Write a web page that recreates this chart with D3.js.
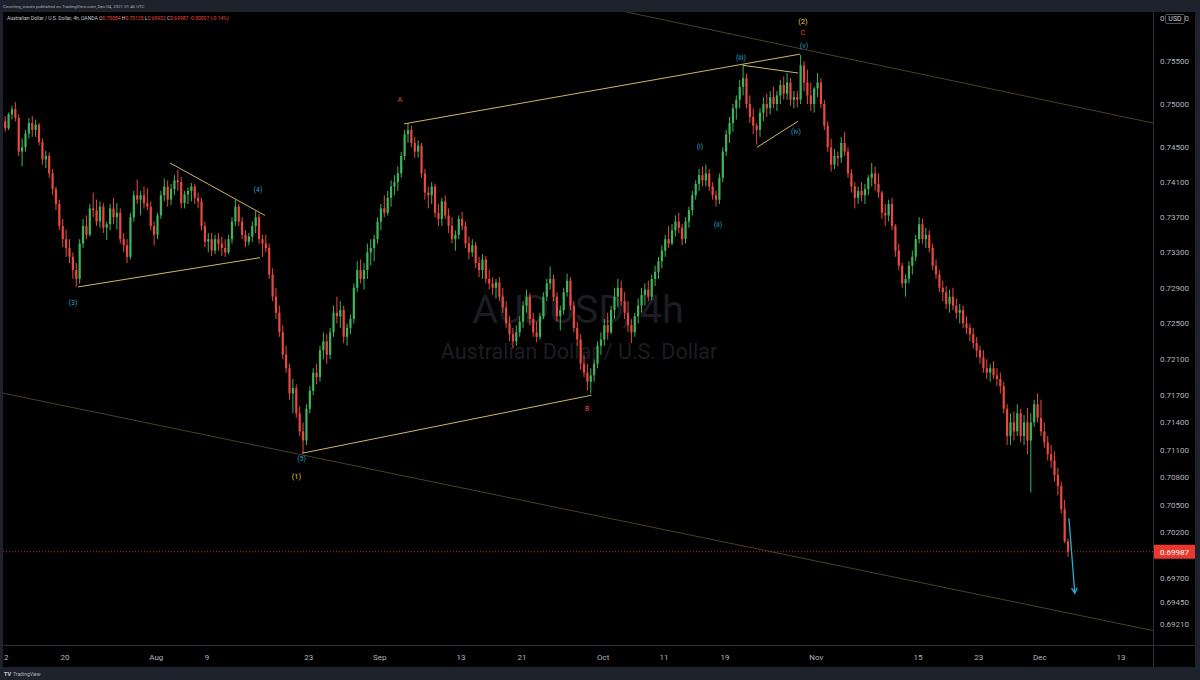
<!DOCTYPE html>
<html><head><meta charset="utf-8">
<script src="https://cdn.jsdelivr.net/npm/d3@7"></script>
<style>html,body{margin:0;padding:0;background:#1e222d;overflow:hidden}svg{display:block;font-family:Roboto,"Open Sans",sans-serif}</style>
</head><body><svg id="c" width="1200" height="680"></svg>
<script>
// ---- data (AUDUSD, 8h slices) ----
const firstOpen = .7480;
const highs = [
.7486,.7490,.7498,.7502,.7488,.7460,.7470,.7484,.7486,.7482,.7478,.7460,.7446,.7444,.7425,
.7405,.7390,.7368,.7356,.7345,.7330,.7318,.7345,.7368,.7372,.7385,.7398,.7390,.7388,.7386,
.7365,.7385,.7392,.7386,.7380,.7352,.7345,.7375,.7400,.7413,.7400,.7405,.7403,.7388,.7365,
.7375,.7400,.7414,.7412,.7408,.7418,.7424,.7416,.7400,.7404,.7409,.7408,.7398,.7392,.7365,
.7352,.7352,.7350,.7352,.7348,.7345,.7350,.7370,.7390,.7385,.7370,.7355,.7352,.7365,.7377,
.7374,.7350,.7350,.7340,.7312,.7290,.7270,.7248,.7225,.7205,.7188,.7182,.7158,.7140,.7160,
.7180,.7200,.7205,.7225,.7240,.7238,.7245,.7270,.7280,.7275,.7270,.7250,.7260,.7295,.7320,
.7322,.7318,.7340,.7345,.7350,.7370,.7385,.7395,.7400,.7412,.7418,.7428,.7445,.7470,.7478,
.7475,.7462,.7458,.7455,.7425,.7405,.7410,.7408,.7385,.7392,.7395,.7380,.7370,.7355,.7372,
.7376,.7365,.7348,.7345,.7342,.7325,.7328,.7326,.7310,.7302,.7300,.7302,.7290,.7275,.7258,
.7245,.7248,.7258,.7275,.7288,.7284,.7262,.7252,.7262,.7285,.7300,.7314,.7305,.7285,.7270,
.7290,.7306,.7302,.7275,.7252,.7238,.7215,.7205,.7200,.7210,.7230,.7240,.7255,.7262,.7270,
.7290,.7300,.7298,.7285,.7275,.7255,.7262,.7278,.7290,.7295,.7298,.7305,.7315,.7325,.7338,
.7350,.7360,.7362,.7372,.7375,.7362,.7370,.7382,.7400,.7412,.7425,.7428,.7430,.7425,.7410,
.7400,.7420,.7450,.7470,.7485,.7500,.7510,.7528,.7546,.7535,.7510,.7495,.7478,.7495,.7508,
.7512,.7515,.7520,.7515,.7528,.7532,.7536,.7530,.7515,.7515,.7557,.7550,.7540,.7525,.7520,
.7536,.7530,.7505,.7480,.7460,.7448,.7445,.7462,.7468,.7450,.7425,.7410,.7405,.7410,.7408,
.7418,.7432,.7428,.7420,.7400,.7385,.7390,.7392,.7362,.7340,.7318,.7305,.7320,.7332,.7350,
.7370,.7368,.7358,.7355,.7340,.7322,.7310,.7298,.7292,.7288,.7290,.7278,.7272,.7270,.7258,
.7250,.7245,.7235,.7225,.7220,.7210,.7205,.7208,.7200,.7195,.7185,.7160,.7150,.7152,.7160,
.7155,.7148,.7156,.7150,.7165,.7172,.7165,.7140,.7125,.7115,.7108,.7090,.7075,.7055,.7013];
const lows = [
.7468,.7470,.7482,.7480,.7440,.7428,.7445,.7460,.7462,.7462,.7452,.7430,.7426,.7415,.7395,
.7378,.7355,.7336,.7325,.7318,.7300,.7291,.7295,.7335,.7345,.7348,.7370,.7360,.7358,.7352,
.7344,.7355,.7362,.7356,.7340,.7330,.7318,.7322,.7365,.7385,.7372,.7380,.7378,.7355,.7338,
.7345,.7368,.7388,.7382,.7384,.7395,.7400,.7380,.7380,.7385,.7388,.7385,.7380,.7355,.7336,
.7330,.7326,.7328,.7332,.7326,.7325,.7328,.7340,.7360,.7360,.7345,.7336,.7338,.7342,.7352,
.7340,.7325,.7330,.7300,.7275,.7255,.7235,.7210,.7195,.7165,.7150,.7145,.7125,.7106,.7115,
.7150,.7170,.7182,.7185,.7210,.7205,.7210,.7235,.7250,.7245,.7228,.7225,.7238,.7250,.7285,
.7295,.7288,.7300,.7315,.7320,.7340,.7355,.7370,.7372,.7382,.7395,.7400,.7415,.7435,.7455,
.7450,.7438,.7438,.7415,.7390,.7380,.7385,.7370,.7360,.7360,.7368,.7352,.7340,.7332,.7345,
.7355,.7335,.7322,.7325,.7312,.7302,.7300,.7295,.7288,.7282,.7278,.7275,.7262,.7245,.7230,
.7222,.7225,.7235,.7245,.7262,.7248,.7235,.7229,.7232,.7255,.7275,.7288,.7275,.7252,.7242,
.7260,.7280,.7265,.7240,.7225,.7198,.7190,.7175,.7172,.7185,.7200,.7215,.7225,.7232,.7238,
.7255,.7268,.7270,.7255,.7240,.7228,.7235,.7250,.7262,.7270,.7275,.7276,.7292,.7300,.7312,
.7325,.7335,.7338,.7348,.7352,.7338,.7340,.7358,.7372,.7390,.7400,.7405,.7405,.7400,.7390,
.7382,.7385,.7410,.7440,.7455,.7468,.7482,.7495,.7510,.7495,.7478,.7465,.7453,.7462,.7480,
.7485,.7488,.7495,.7492,.7500,.7505,.7505,.7498,.7495,.7496,.7500,.7515,.7500,.7492,.7490,
.7508,.7495,.7470,.7445,.7422,.7425,.7428,.7432,.7440,.7415,.7398,.7380,.7385,.7388,.7385,
.7395,.7405,.7400,.7392,.7368,.7360,.7365,.7355,.7325,.7310,.7290,.7280,.7295,.7305,.7320,
.7340,.7340,.7335,.7330,.7310,.7300,.7285,.7275,.7266,.7262,.7265,.7255,.7250,.7245,.7238,
.7230,.7222,.7212,.7205,.7195,.7188,.7185,.7188,.7180,.7172,.7150,.7115,.7115,.7120,.7125,
.7118,.7115,.7105,.7063,.7135,.7140,.7125,.7112,.7098,.7090,.7075,.7060,.7040,.7008,.6993];
const closes = [
.7472,.7488,.7494,.7484,.7445,.7450,.7466,.7478,.7470,.7476,.7456,.7436,.7440,.7420,.7402,
.7385,.7360,.7345,.7335,.7325,.7310,.7300,.7340,.7360,.7350,.7380,.7378,.7365,.7382,.7358,
.7362,.7380,.7370,.7375,.7345,.7338,.7325,.7370,.7395,.7390,.7395,.7386,.7382,.7360,.7350,
.7372,.7395,.7405,.7390,.7402,.7412,.7410,.7386,.7396,.7400,.7405,.7392,.7388,.7360,.7342,
.7345,.7332,.7345,.7340,.7335,.7330,.7345,.7365,.7382,.7365,.7350,.7342,.7348,.7360,.7370,
.7345,.7340,.7335,.7305,.7280,.7262,.7240,.7215,.7200,.7172,.7178,.7150,.7130,.7120,.7155,
.7175,.7195,.7190,.7220,.7230,.7215,.7240,.7262,.7258,.7265,.7235,.7245,.7255,.7290,.7310,
.7300,.7310,.7330,.7335,.7345,.7365,.7380,.7375,.7392,.7405,.7410,.7420,.7440,.7465,.7470,
.7455,.7445,.7452,.7420,.7398,.7395,.7405,.7375,.7368,.7388,.7372,.7360,.7345,.7350,.7368,
.7360,.7340,.7330,.7338,.7318,.7310,.7322,.7300,.7295,.7290,.7296,.7280,.7268,.7250,.7238,
.7230,.7240,.7252,.7270,.7280,.7255,.7240,.7235,.7258,.7280,.7295,.7300,.7280,.7258,.7265,
.7285,.7298,.7270,.7245,.7232,.7205,.7195,.7185,.7192,.7205,.7225,.7232,.7248,.7240,.7265,
.7280,.7290,.7275,.7262,.7248,.7240,.7258,.7270,.7282,.7288,.7280,.7300,.7308,.7320,.7332,
.7345,.7340,.7355,.7365,.7358,.7345,.7365,.7378,.7395,.7408,.7418,.7412,.7420,.7405,.7395,
.7390,.7415,.7445,.7465,.7478,.7495,.7505,.7520,.7530,.7500,.7485,.7475,.7470,.7490,.7500,
.7495,.7508,.7500,.7510,.7522,.7512,.7525,.7505,.7508,.7505,.7545,.7525,.7510,.7500,.7518,
.7525,.7500,.7475,.7450,.7430,.7440,.7438,.7455,.7445,.7420,.7405,.7392,.7400,.7395,.7402,
.7415,.7420,.7408,.7398,.7375,.7372,.7385,.7360,.7332,.7315,.7295,.7300,.7315,.7325,.7345,
.7362,.7345,.7350,.7335,.7315,.7305,.7290,.7285,.7272,.7280,.7270,.7262,.7265,.7250,.7245,
.7238,.7228,.7220,.7212,.7200,.7195,.7200,.7192,.7188,.7180,.7155,.7125,.7140,.7130,.7150,
.7125,.7140,.7120,.7140,.7160,.7145,.7130,.7118,.7105,.7098,.7082,.7070,.7045,.7010,.69987];
const barsPerDay = 3;
const dayTicks  = [0,6,15,20,30,37,45,51,59,65,71,80,90,96,102,110];
const dayLabels = ["12","20","Aug","9","23","Sep","13","21","Oct","11","19","Nov","15","23","Dec","13"];
const priceTicks = [.76,.755,.75,.745,.741,.737,.733,.729,.725,.721,.717,.714,.711,.708,.705,.702,.697,.6945,.6921];
const lastPrice = .69987;
// wave trend lines [[day, price],[day, price]]
const waveLines = [
  [[16.40,.7432],[25.75,.7372]],
  [[7.34,.7291],[25.26,.7324]],
  [[39.44,.7477],[78.43,.7558]],
  [[29.39,.7106],[57.90,.7170]],
  [[72.82,.7545],[78.24,.7536]],
  [[74.20,.7450],[78.24,.7480]]
];
const channelLines = [
  [[60.71,.7609],[113.2,.7478]],
  [[-0.35,.7173],[113.2,.6914]]
];
const forecastArrow = [[104.92,.7035],[105.50,.6954]];
const minorLabels = [["(3)",6.84,.7273],["(4)",25.06,.7402],["(5)",29.35,.7100],["(i)",68.59,.7451],["(ii)",70.36,.7362],["(iii)",72.62,.7554],["(iv)",78.04,.7468],["(v)",78.83,.7568]];
const intermediateLabels = [["(1)",28.85,.7081],["(2)",78.73,.7596]];
const correctiveLabels = [["A",39.04,.7505],["B",57.46,.7156],["C",78.73,.7584]];

// ---- drawing ----
const svg = d3.select("#c");
const W = 1200, H = 680;
const P = {left:3, right:1153, top:12, bottom:645, frameR:1195, frameB:667};
const UP = "#3fb45a", DOWN = "#e8493f";

svg.append("rect").attr("width",W).attr("height",H).attr("fill","#1e222d");
svg.append("rect").attr("x",P.left).attr("y",P.top).attr("width",P.frameR-P.left).attr("height",P.frameB-P.top).attr("fill","#000");

const x = d3.scaleLinear().domain([0,110]).range([3.5,1120.5]);
const y = d3.scaleLog().domain([.755,.6921]).range([61,624]);

const defs = svg.append("defs");
defs.append("clipPath").attr("id","pc").append("rect")
  .attr("x",P.left).attr("y",P.top).attr("width",P.right-P.left).attr("height",P.bottom-P.top);
defs.append("clipPath").attr("id","xc").append("rect")
  .attr("x",P.left).attr("y",0).attr("width",P.right-P.left).attr("height",40);

// watermark
const wm = svg.append("g").attr("fill","#1c1d22").attr("text-anchor","middle");
wm.append("text").attr("x",578).attr("y",323).attr("font-size",39.5).text("AUDUSD, 4h");
wm.append("text").attr("x",579).attr("y",359).attr("font-size",21.5).text("Australian Dollar / U.S. Dollar");

const plot = svg.append("g").attr("clip-path","url(#pc)");

// channel lines
plot.selectAll("line.ch").data(channelLines).join("line").attr("class","ch")
  .attr("x1",d=>x(d[0][0])).attr("y1",d=>y(d[0][1])).attr("x2",d=>x(d[1][0])).attr("y2",d=>y(d[1][1]))
  .attr("stroke","#4a3e2b").attr("stroke-width",1);

// last price dotted line
plot.append("line").attr("x1",0).attr("x2",P.right).attr("y1",y(lastPrice)).attr("y2",y(lastPrice))
  .attr("stroke","#b7352c").attr("stroke-width",1).attr("stroke-dasharray","1,2");

// candles
const candles = closes.map((c,i)=>{const o = i ? closes[i-1] : firstOpen;
  return {i,o,c,h:Math.max(highs[i],o,c),l:Math.min(lows[i],o,c)};});
const cx = d => x((d.i+0.5)/barsPerDay);
const cg = plot.append("g");
cg.selectAll("line").data(candles).join("line")
  .attr("x1",cx).attr("x2",cx).attr("y1",d=>y(d.h)).attr("y2",d=>y(d.l))
  .attr("stroke",d=>d.c>=d.o?UP:DOWN).attr("stroke-width",1);
cg.selectAll("rect").data(candles).join("rect")
  .attr("x",d=>cx(d)-1.1).attr("width",2.2)
  .attr("y",d=>y(Math.max(d.o,d.c))).attr("height",d=>Math.max(1,y(Math.min(d.o,d.c))-y(Math.max(d.o,d.c))))
  .attr("fill",d=>d.c>=d.o?UP:DOWN);

// wave lines
plot.selectAll("line.wv").data(waveLines).join("line").attr("class","wv")
  .attr("x1",d=>x(d[0][0])).attr("y1",d=>y(d[0][1])).attr("x2",d=>x(d[1][0])).attr("y2",d=>y(d[1][1]))
  .attr("stroke","#cdb964").attr("stroke-width",1);

// arrow
{ const x1=x(forecastArrow[0][0]), y1=y(forecastArrow[0][1]), x2=x(forecastArrow[1][0]), y2=y(forecastArrow[1][1]);
  const a = Math.atan2(y2-y1,x2-x1), L=6, s=0.5;
  const ag = plot.append("g").attr("stroke","#27b1d6").attr("stroke-width",1.3).attr("fill","none");
  ag.append("line").attr("x1",x1).attr("y1",y1).attr("x2",x2).attr("y2",y2);
  ag.append("path").attr("d",`M${x2-L*Math.cos(a-s)},${y2-L*Math.sin(a-s)}L${x2},${y2}L${x2-L*Math.cos(a+s)},${y2-L*Math.sin(a+s)}`);
}

// labels
function labels(arr, color, size){
  plot.append("g").selectAll("text").data(arr).join("text")
    .attr("x",d=>x(d[1])).attr("y",d=>y(d[2])).attr("dy","0.35em")
    .attr("text-anchor","middle").attr("font-size",size).attr("fill",color).text(d=>d[0]);
}
labels(minorLabels,"#2ba3c8",7);
labels(correctiveLabels,"#e2453b",7.5);
labels(intermediateLabels,"#e9c43f",7.5);

// separators
svg.append("line").attr("x1",P.right+0.5).attr("x2",P.right+0.5).attr("y1",P.top).attr("y2",P.frameB).attr("stroke","#2a2e39");
svg.append("line").attr("x1",P.left).attr("x2",P.frameR).attr("y1",P.bottom+0.5).attr("y2",P.bottom+0.5).attr("stroke","#2a2e39");

// axes
const yAxis = svg.append("g").attr("transform",`translate(${P.right},0)`)
  .call(d3.axisRight(y).tickValues(priceTicks).tickFormat(d3.format(".5f")).tickSize(0).tickPadding(7));
yAxis.select(".domain").remove();
yAxis.selectAll("text").attr("fill","#b2b5be").attr("font-size",8).attr("font-family","Roboto");

const xAxisWrap = svg.append("g").attr("transform",`translate(0,${P.bottom})`);
const xAxis = xAxisWrap.append("g").attr("clip-path","url(#xc)")
  .call(d3.axisBottom(x).tickValues(dayTicks).tickFormat((d,i)=>dayLabels[i]).tickSize(0).tickPadding(9));
xAxis.select(".domain").remove();
xAxis.selectAll("text").attr("fill","#b2b5be").attr("font-size",8).attr("font-family","Roboto");

// last price tag
const ly = y(lastPrice);
svg.append("rect").attr("x",P.right+1).attr("y",ly-7).attr("width",P.frameR-P.right-1).attr("height",14).attr("fill","#e8392e");
svg.append("text").attr("x",P.right+7).attr("y",ly).attr("dy","0.35em").attr("font-size",8).attr("fill","#fff").text(d3.format(".5f")(lastPrice));

// USD tag
svg.append("rect").attr("x",1165.5).attr("y",14.5).attr("width",19).attr("height",9).attr("rx",1.5).attr("fill","#000").attr("stroke","#50535e");
svg.append("text").attr("x",1175).attr("y",19).attr("dy","0.35em").attr("text-anchor","middle").attr("font-size",7).attr("fill","#d1d4dc").text("USD");

// header
svg.append("text").attr("x",3).attr("y",7.5).attr("font-size",4.4).attr("fill","#a9acb5")
  .text("Counting_waves published on TradingView.com, Dec 04, 2021 01:46 UTC");
const sym = svg.append("text").attr("x",7).attr("y",19.5).attr("font-size",5).attr("fill","#c8cad1");
sym.append("tspan").text("Australian Dollar / U.S. Dollar, 4h, OANDA  ");
[["O","0.70084"],["H","0.70125"],["L","0.69932"],["C","0.69987"]].forEach(([k,v])=>{
  sym.append("tspan").attr("fill","#c8cad1").text(k);
  sym.append("tspan").attr("fill","#e8493f").text(v+"  ");
});
sym.append("tspan").attr("fill","#e8493f").text("-0.00097 (-0.14%)");

// footer
const ft = svg.append("g").attr("transform","translate(4,676)");
ft.append("text").attr("font-size",5.5).attr("font-weight","bold").attr("fill","#d1d4dc").text("TV");
ft.append("text").attr("x",9).attr("font-size",5).attr("fill","#b2b5be").text("TradingView");
</script></body></html>
